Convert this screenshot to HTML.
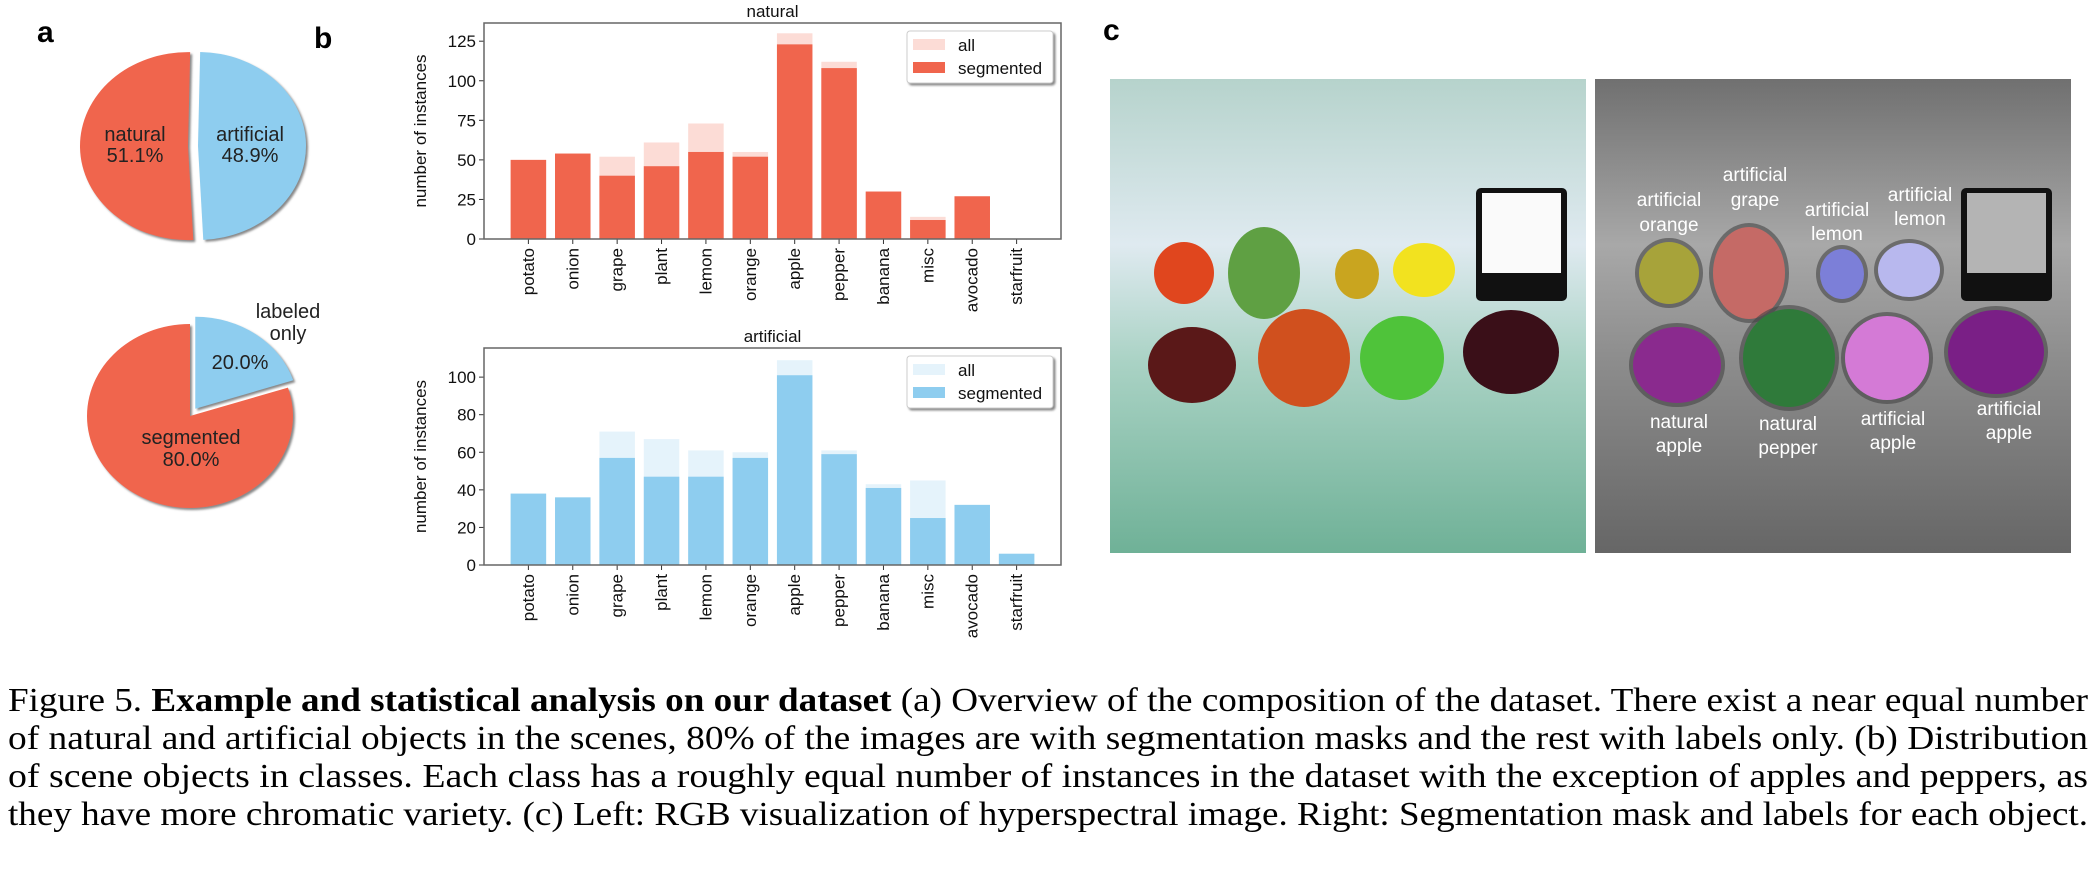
<!DOCTYPE html>
<html><head><meta charset="utf-8">
<style>
body{margin:0;background:#fff;width:2096px;height:874px;overflow:hidden;position:relative;font-family:"Liberation Sans",sans-serif}
#cap{position:absolute;left:8px;top:682px;width:2080px;font-family:"Liberation Serif",serif;font-size:34px;line-height:38px;color:#000}
#cap div{white-space:nowrap;transform-origin:0 0;display:block;width:max-content}
</style></head><body>
<svg id="fig" width="2096" height="874" style="position:absolute;left:0;top:0" xmlns="http://www.w3.org/2000/svg">
<defs>
<linearGradient id="gL" x1="0" y1="0" x2="0" y2="1"><stop offset="0" stop-color="#b6d3cc"/><stop offset="0.35" stop-color="#dfeaf0"/><stop offset="0.6" stop-color="#a9d2c4"/><stop offset="1" stop-color="#6fb197"/></linearGradient>
<linearGradient id="gR" x1="0" y1="0" x2="0" y2="1"><stop offset="0" stop-color="#707070"/><stop offset="0.35" stop-color="#a8a8a8"/><stop offset="0.6" stop-color="#8c8c8c"/><stop offset="1" stop-color="#666"/></linearGradient>
<filter id="sh"><feDropShadow dx="2" dy="2" stdDeviation="1" flood-color="#888"/></filter>
</defs>
<text x="37" y="42" font-size="30" font-weight="bold" font-family="Liberation Sans">a</text>
<text x="314" y="48" font-size="30" font-weight="bold" font-family="Liberation Sans">b</text>
<text x="1103" y="40" font-size="30" font-weight="bold" font-family="Liberation Sans">c</text>
<g id="pies"></g>
<g id="charts"></g>
<g id="photoL"></g>
<g id="photoR"></g>
</svg>
<div id="cap">
<div>Figure 5. <b>Example and statistical analysis on our dataset</b> (a) Overview of the composition of the dataset. There exist a near equal number</div>
<div>of natural and artificial objects in the scenes, 80% of the images are with segmentation masks and the rest with labels only. (b) Distribution</div>
<div>of scene objects in classes. Each class has a roughly equal number of instances in the dataset with the exception of apples and peppers, as</div>
<div>they have more chromatic variety. (c) Left: RGB visualization of hyperspectral image. Right: Segmentation mask and labels for each object.</div>
</div>
<script>
const NS="http://www.w3.org/2000/svg";
const categories=["potato","onion","grape","plant","lemon","orange","apple","pepper","banana","misc","avocado","starfruit"];
const natSeg=[50,54,40,46,55,52,123,108,30,12,27,0];
const natAll=[50,54,52,61,73,55,130,112,30,14,27,0];
const artSeg=[38,36,57,47,47,57,101,59,41,25,32,6];
const artAll=[38,36,71,67,61,60,109,61,43,45,32,6];
const natTicks=[0,25,50,75,100,125];
const artTicks=[0,20,40,60,80,100];
const pieComp=[51.1,48.9];
const pieSeg=[80.0,20.0];

function el(t,a,p){const e=document.createElementNS(NS,t);for(const k in a)e.setAttribute(k,a[k]);(p||document.getElementById('fig')).appendChild(e);return e;}

function chart(g,top,bot,ymax,title,seg,all,ticks,cSeg,cAll,name){
  const L=484,R=1061;
  const x=i=>L+(R-L)*(i+1)/13;
  const y=v=>bot-(bot-top)*v/ymax;
  const bw=(R-L)/13*0.8;
  const grp=el('g',{},g);
  
  
  categories.forEach((c,i)=>{
    const a=el('rect',{x:x(i)-bw/2,y:y(all[i]),width:bw,height:bot-y(all[i]),fill:cAll},grp);
    
    
    const s=el('rect',{x:x(i)-bw/2,y:y(seg[i]),width:bw,height:bot-y(seg[i]),fill:cSeg},grp);
    
    
    el('line',{x1:x(i),x2:x(i),y1:bot,y2:bot+5,stroke:'#333'},grp);
    const t=el('text',{x:0,y:0,'font-size':17,'text-anchor':'end','dominant-baseline':'central',transform:`translate(${x(i)},${bot+9}) rotate(-90)`,fill:'#111'},grp);
    t.textContent=c;
    
    
  });
  ticks.forEach(v=>{
    el('line',{x1:L-5,x2:L,y1:y(v),y2:y(v),stroke:'#333'},grp);
    const t=el('text',{x:L-8,y:y(v)+6,'font-size':17,'text-anchor':'end',fill:'#111'},grp);
    t.textContent=v;
    
    
  });
  el('rect',{x:L,y:top,width:R-L,height:bot-top,fill:'none',stroke:'#666','stroke-width':1.5},grp);
  const tt=el('text',{x:(L+R)/2,y:top-6,'font-size':17,'text-anchor':'middle',fill:'#111'},grp);
  tt.textContent=title;
  
  
  const yl=el('text',{x:0,y:0,'font-size':17,'text-anchor':'middle',transform:`translate(${L-58},${(top+bot)/2}) rotate(-90)`,fill:'#111'},grp);
  yl.textContent='number of instances';
  
  
  const lg=el('g',{},grp);
  
  
  el('rect',{x:907,y:top+8,width:146,height:52,rx:3,fill:'#fff',stroke:'#ccc',filter:'url(#sh)'},lg);
  el('rect',{x:913,y:top+16,width:32,height:11,fill:cAll},lg);
  el('rect',{x:913,y:top+39,width:32,height:11,fill:cSeg},lg);
  const a1=el('text',{x:958,y:top+28,'font-size':17,fill:'#111'},lg);a1.textContent='all';
  const a2=el('text',{x:958,y:top+51,'font-size':17,fill:'#111'},lg);a2.textContent='segmented';
}
const cg=document.getElementById('charts');
chart(cg,23,239,136.5,'natural',natSeg,natAll,natTicks,'#f0654d','#fcdcd6','natural-bar-chart');
chart(cg,348,565,115.5,'artificial',artSeg,artAll,artTicks,'#8ecdef','#e5f3fb','artificial-bar-chart');

function pie(g,cx,cy,rx,ry,vals,cols,start,explode,name){
  const grp=el('g',{},g);
  
  
  const tot=vals.reduce((a,b)=>a+b,0);
  let ang=start;
  vals.forEach((v,i)=>{
    const a0=ang,a1=ang+v/tot*2*Math.PI;ang=a1;
    const mid=(a0+a1)/2,ox=Math.sin(mid)*explode[i],oy=-Math.cos(mid)*explode[i];
    const px=a=>cx+ox+rx*Math.sin(a),py=a=>cy+oy-ry*Math.cos(a);
    const large=(a1-a0)>Math.PI?1:0;
    const p=el('path',{d:`M${cx+ox},${cy+oy} L${px(a0)},${py(a0)} A${rx},${ry} 0 ${large} 1 ${px(a1)},${py(a1)} Z`,fill:cols[i],filter:'url(#sh)'},grp);
    
    
  });
}
const pg=document.getElementById('pies');
pie(pg,193,146,108,94,[pieComp[1],pieComp[0]],['#8ecdef','#f0654d'],0.02,[5,5],'composition-pie');
pie(pg,190,416,103,92,[pieSeg[1],pieSeg[0]],['#8ecdef','#f0654d'],0,[9,0],'segmentation-pie');
function txt(x,y,s,size,fill,g,name,anchor){const t=el('text',{x:x,y:y,'font-size':size,'text-anchor':anchor||'middle',fill:fill},g);t.textContent=s;return t;}
txt(135,141,'natural',20,'#222',pg,'pie-label');
txt(135,162,pieComp[0].toFixed(1)+'%',20,'#222',pg,'pie-percent');
txt(250,141,'artificial',20,'#222',pg,'pie-label');
txt(250,162,pieComp[1].toFixed(1)+'%',20,'#222',pg,'pie-percent');
txt(288,318,'labeled',20,'#222',pg,'pie-label');
txt(288,340,'only',20,'#222',pg,'pie-label');
txt(240,369,pieSeg[1].toFixed(1)+'%',20,'#222',pg,'pie-percent');
txt(191,444,'segmented',20,'#222',pg,'pie-label');
txt(191,466,pieSeg[0].toFixed(1)+'%',20,'#222',pg,'pie-percent');

function scene(g,dx,seg){
  el('rect',{x:1110+dx,y:79,width:476,height:474,fill:seg?'url(#gR)':'url(#gL)'},g);
  const F=[
   ['orange',1184,273,30,31,seg?'#a7a33a':'#e0461e'],
   ['grape',1264,273,36,46,seg?'#c56a66':'#5fa043'],
   ['lemon1',1357,274,22,25,seg?'#7c7fd8':'#c9a51f'],
   ['lemon2',1424,270,31,27,seg?'#b8b8ee':'#f2e21f'],
   ['apple1',1192,365,44,38,seg?'#8a2a8e':'#5a1818'],
   ['pepper',1304,358,46,49,seg?'#2f7a3a':'#d0501e'],
   ['apple2',1402,358,42,42,seg?'#d47ad6':'#4fc33a'],
   ['apple3',1511,352,48,42,seg?'#7a1f86':'#3a0f18']];
  F.forEach(f=>{
    if(seg) el('ellipse',{cx:f[1]+dx,cy:f[2],rx:f[3]+4,ry:f[4]+4,fill:'#444',opacity:0.6},g);
    el('ellipse',{cx:f[1]+dx,cy:f[2],rx:f[3],ry:f[4],fill:f[5]},g);
  });
  el('rect',{x:1476+dx,y:188,width:91,height:113,rx:5,fill:'#111'},g);
  el('rect',{x:1482+dx,y:193,width:79,height:80,fill:seg?'#b4b4b4':'#fafafa'},g);
}
const L=document.getElementById('photoL'),R=document.getElementById('photoR');
scene(L,0,false);scene(R,485,true);
[['artificial',1669,206],['orange',1669,231],['artificial',1755,181],['grape',1755,206],['artificial',1837,216],['lemon',1837,240],['artificial',1920,201],['lemon',1920,225],
 ['natural',1679,428],['apple',1679,452],['natural',1788,430],['pepper',1788,454],['artificial',1893,425],['apple',1893,449],['artificial',2009,415],['apple',2009,439]]
 .forEach(l=>txt(l[1],l[2],l[0],19,'#fff',R,'object-label'));

document.querySelectorAll('#cap div').forEach(d=>{
  const w=d.getBoundingClientRect().width;
  d.style.transform='scaleX('+(2080/w)+')';
});
</script>
</body></html>
